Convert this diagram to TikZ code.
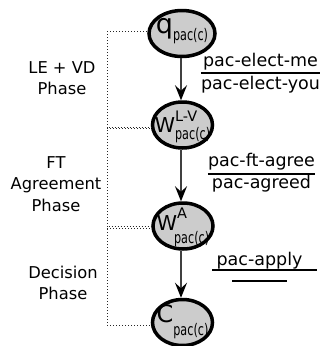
\documentclass[tikz,border=0pt]{standalone}
\usepackage{fontspec}
\setmainfont{DejaVu Sans}
\newfontfamily\condfont[FakeStretch=0.7]{DejaVu Sans}
\usetikzlibrary{shapes.geometric,arrows.meta,calc}

% type sizes for the state names
\newcommand\bigq{\fontsize{27}{27}\selectfont}
\newcommand\bigw{\fontsize{20.5}{20.5}\selectfont}
\newcommand\bigc{\fontsize{24}{24}\selectfont}
\newcommand\supf{\fontsize{14.5}{14.5}\selectfont}
\newcommand\subf{\condfont\fontsize{16}{16}\selectfont}

\begin{document}
\begin{tikzpicture}[x=1pt,y=-1pt,
  state/.style={ellipse,draw=black,line width=3.5pt,fill=black!20,
    minimum width=60pt,minimum height=46pt,inner sep=0pt,
    text height=0pt,text depth=0pt},
  trans/.style={draw=black!75,line width=1.3pt,
    -{Stealth[length=15pt,width=12pt,inset=5.5pt,black]}},
  phase/.style={draw=black!85,line width=0.8pt,dash pattern=on 0.8pt off 2.2pt},
  phaselab/.style={align=center,inner sep=0pt,font=\fontsize{16.3}{21.5}\selectfont},
  actlab/.style={anchor=base,inner sep=0pt,font=\fontsize{17.5}{21}\selectfont},
  fracrule/.style={draw=black,line width=1.7pt}]
\useasboundingbox (0,0) rectangle (320,346);

% states
\node[state,minimum width=66pt] (q) at (182,33.5)
  {\makebox[0pt]{\raisebox{0.5pt}{\bigq q}\raisebox{-6.8pt}{\subf pac(c)}}};
\node[state] (wlv) at (182.5,125)
  {\makebox[0pt]{\raisebox{-7.3pt}{\bigw W}\rlap{\raisebox{3.3pt}{\supf L-V}}\raisebox{-14.7pt}{\subf pac(c)}}};
\node[state] (wa) at (183,226)
  {\makebox[0pt]{\raisebox{-4pt}{\bigw W}\rlap{\raisebox{7.7pt}{\supf A}}\kern-3pt\raisebox{-17pt}{\subf pac(c)}}};
\node[state] (c) at (182.5,322.5)
  {\makebox[0pt]{{\bigc C}\raisebox{-12.7pt}{\subf pac(c)}}};

% transitions
\draw[trans] (q.south -| 181,0) -- (wlv.north -| 181,0);
\draw[trans] (wlv.south -| 181,0) -- (wa.north -| 181,0);
\draw[trans] (wa.south -| 181,0) -- (c.north -| 181,0);

% phase brackets
\coordinate (k1) at (107,31);
\coordinate (k2) at (107,128.5);
\coordinate (k3) at (107,228);
\coordinate (k4) at (107,325);
\draw[phase] (k1) -- (k4);
\draw[phase] (k1) -- (k1 -| q.west);
\draw[phase] (k2) -- (k2 -| wlv.west);
\draw[phase,dash phase=1.5pt] ($(k2)+(0,-1.2)$) -- ($(k2 -| wlv.west)+(0,-1.2)$);
\draw[phase] (k3) -- (k3 -| wa.west);
\draw[phase,dash phase=1.5pt] ($(k3)+(0,-1.2)$) -- ($(k3 -| wa.west)+(0,-1.2)$);
\draw[phase] (k4) -- (k4 -| c.west);

% phase names
\node[phaselab] (p1) at (62,78.2) {LE + VD\\Phase};
\node[phaselab] (p2) at (56,184) {FT\\Agreement\\Phase};
\node[phaselab] (p3) at (63,283) {Decision\\Phase};

% actions
\node[actlab] (a1n) at (260.5,66.7) {pac-elect-me};
\node[actlab] (a1d) at (260.5,89) {pac-elect-you};
\coordinate (r1) at (0,72.7);
\draw[fracrule] (a1d.west |- r1) -- (a1d.east |- r1);

\node[actlab] (a2n) at (261.5,166) {pac-ft-agree};
\node[actlab] (a2d) at (261.5,188.5) {pac-agreed};
\coordinate (r2) at (0,174.3);
\draw[fracrule] (a2n.west |- r2) -- (a2n.east |- r2);

\node[actlab] (a3n) at (259.5,265) {pac-apply};
\draw[fracrule] (212,270) -- (317,270);
\draw[fracrule] (232,281) -- (287,281);
\end{tikzpicture}
\end{document}
